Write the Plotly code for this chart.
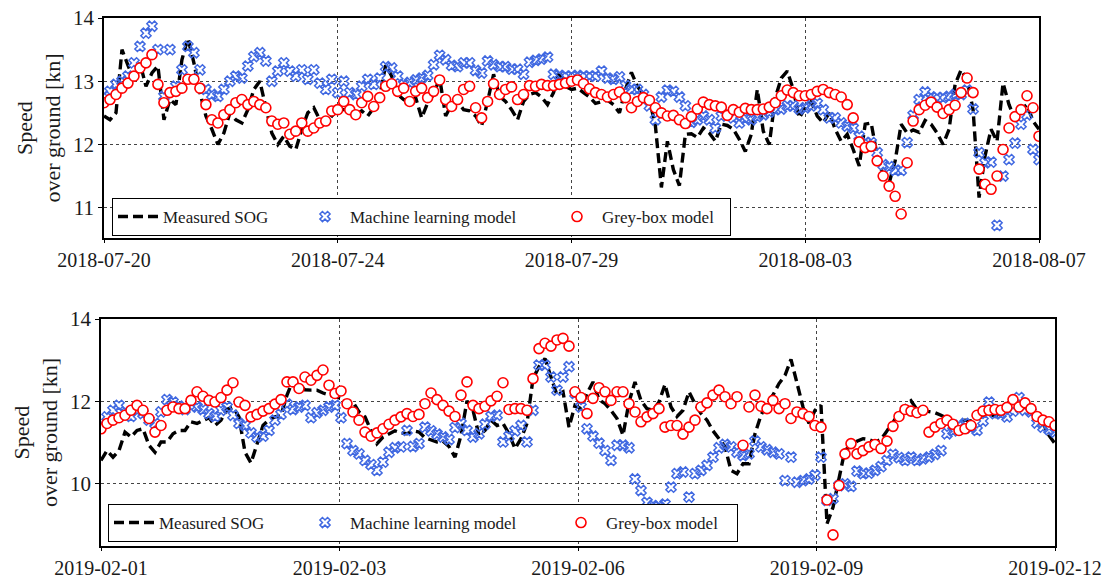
import numpy as np
import plotly.graph_objects as go

# ---- July/August 2018 voyage --------------------------------------------
top_tick_labels = ["2018-07-20", "2018-07-24", "2018-07-29", "2018-08-03", "2018-08-07"]

top_sog = [
    12.45, 12.39, 12.5, 13.5, 13.25, 13.03, 13.29, 12.92, 13.13, 13.24,
    12.39, 12.71, 12.63, 13.34, 13.68, 13.29, 12.82, 12.45, 12.24, 12.0,
    12.18, 12.5, 12.39, 12.34, 12.55, 12.87, 13.0, 12.6, 12.18, 12.0,
    12.13, 11.97, 11.92, 12.24, 12.5, 12.58, 12.39, 12.32, 12.45, 12.55,
    12.55, 12.55, 12.47, 12.53, 12.45, 12.58, 12.76, 13.26, 13.08, 12.79,
    12.71, 12.66, 12.74, 12.42, 12.66, 12.79, 13.05, 12.45, 12.63, 12.68,
    12.55, 12.53, 12.45, 12.29, 12.68, 13.11, 12.76, 12.68, 12.55, 12.39,
    12.68, 12.79, 12.82, 12.75, 12.63, 12.82, 13.16, 12.92, 12.87, 12.89,
    12.82, 12.75, 12.65, 12.67, 12.7, 12.63, 12.5, 12.87, 13.14, 12.92,
    12.79, 12.71, 12.29, 11.32, 12.05, 11.6, 11.35, 12.16, 12.17, 12.11,
    12.26, 12.18, 12.05, 12.32, 12.3, 12.24, 12.08, 11.89, 12.16, 12.87,
    12.21, 12.0, 12.74, 13.05, 13.16, 12.87, 12.42, 12.58, 12.68, 12.45,
    12.34, 12.5, 12.24, 12.05, 12.16, 11.92, 11.66, 12.32, 12.34, 11.82,
    11.5, 11.39, 11.74, 12.32, 12.18, 12.23, 12.19, 12.38, 12.32, 12.18,
    12.0, 12.24, 12.95, 13.18, 13.02, 12.55, 11.16, 11.82, 12.24, 12.05,
    12.97, 12.63, 12.39, 12.55, 12.63, 12.37, 12.24,
]

top_ml = [
    12.76, 12.84, 12.95, 13.0, 13.08, 13.29, 13.55, 13.76, 13.87, 13.5,
    12.76, 13.5, 12.92, 13.18, 13.55, 13.45, 13.18, 12.87, 12.79, 12.76,
    12.87, 13.0, 13.08, 13.05, 13.24, 13.39, 13.45, 13.32, 13.0, 13.16,
    13.29, 13.16, 13.08, 13.18, 13.03, 13.18, 12.97, 12.87, 13.03, 12.82,
    13.0, 12.82, 12.79, 12.92, 13.03, 12.95, 13.05, 13.23, 13.21, 13.08,
    12.95, 12.98, 13.02, 13.05, 13.09, 13.26, 13.41, 13.34, 13.25, 13.23,
    13.29, 13.29, 13.17, 13.13, 13.32, 13.26, 13.23, 13.23, 13.19, 13.19,
    13.11, 13.3, 13.33, 13.35, 13.38, 13.11, 13.09, 13.08, 13.08, 13.09,
    13.08, 13.08, 13.08, 13.16, 13.05, 13.03, 13.07, 12.93, 12.87, 12.87,
    12.79, 12.61, 12.39, 12.75, 12.86, 12.84, 12.75, 12.61, 12.35, 12.39,
    12.45, 12.39, 12.26, 12.45, 12.49, 12.42, 12.34, 12.41, 12.39, 12.44,
    12.47, 12.51, 12.55, 12.56, 12.61, 12.61, 12.56, 12.58, 12.61, 12.65,
    12.55, 12.42, 12.42, 12.34, 12.29, 12.26, 12.13, 12.03, 12.03, 11.87,
    11.68, 11.65, 11.59, 11.59, 12.03, 12.46, 12.71, 12.83, 12.75, 12.74,
    12.74, 12.76, 12.79, 12.79, 12.86, 12.56, 11.87, 11.71, 11.72, 10.72,
    11.5, 11.76, 12.02, 12.32, 12.47, 11.92, 11.76,
]

top_grey = [
    12.66, 12.71, 12.79, 12.89, 12.97, 13.08, 13.21, 13.29, 13.42, 12.95,
    12.66, 12.82, 12.84, 12.89, 13.03, 13.03, 12.89, 12.63, 12.39, 12.34,
    12.47, 12.55, 12.66, 12.71, 12.63, 12.68, 12.63, 12.58, 12.37, 12.32,
    12.34, 12.16, 12.21, 12.34, 12.21, 12.26, 12.34, 12.37, 12.53, 12.55,
    12.68, 12.55, 12.47, 12.66, 12.76, 12.6, 12.74, 12.92, 12.96, 12.84,
    12.89, 12.68, 12.84, 12.89, 12.74, 12.84, 13.02, 12.71, 12.6, 12.71,
    12.87, 12.92, 12.58, 12.42, 12.68, 12.96, 12.79, 12.87, 12.91, 12.71,
    12.79, 12.93, 12.92, 12.95, 12.93, 12.93, 12.95, 12.97, 13.0, 13.02,
    12.96, 12.88, 12.82, 12.79, 12.75, 12.79, 12.83, 12.74, 12.58, 12.68,
    12.74, 12.7, 12.58, 12.5, 12.45, 12.46, 12.39, 12.33, 12.44, 12.56,
    12.67, 12.63, 12.61, 12.59, 12.46, 12.55, 12.51, 12.57, 12.55, 12.55,
    12.56, 12.59, 12.66, 12.77, 12.86, 12.82, 12.77, 12.77, 12.79, 12.84,
    12.87, 12.82, 12.79, 12.75, 12.63, 12.42, 12.04, 11.95, 11.97, 11.74,
    11.5, 11.34, 11.18, 10.9, 11.71, 12.37, 12.55, 12.62, 12.67, 12.59,
    12.49, 12.55, 12.62, 12.82, 13.05, 12.82, 11.61, 11.37, 11.29, 11.5,
    11.92, 12.26, 12.44, 12.55, 12.77, 12.58, 12.13,
]

# ---- February 2019 voyage ------------------------------------------------
bot_tick_labels = ["2019-02-01", "2019-02-03", "2019-02-06", "2019-02-09", "2019-02-12"]

bot_sog = [
    10.56, 10.8, 10.64, 10.8, 11.25, 11.13, 11.29, 11.33, 10.93, 10.76,
    11.01, 11.01, 11.21, 11.29, 11.29, 11.5, 11.46, 11.54, 11.6, 11.41,
    11.54, 11.8, 11.86, 11.62, 10.76, 10.5, 10.97, 11.41, 11.55, 11.62,
    11.66, 12.15, 12.51, 12.39, 12.28, 12.27, 12.27, 12.2, 12.15, 12.11,
    12.07, 11.9, 11.98, 11.74, 11.62, 11.29, 10.97, 11.13, 11.2, 11.28,
    11.23, 11.21, 11.28, 11.25, 11.11, 11.07, 11.01, 11.03, 10.9, 10.64,
    11.17, 12.01, 11.78, 11.17, 11.29, 11.54, 11.41, 11.46, 11.21, 10.85,
    11.09, 11.46, 12.55, 12.84, 13.04, 12.59, 12.15, 12.23, 11.37, 11.9,
    11.82, 12.19, 12.47, 12.04, 11.94, 11.78, 11.58, 11.17, 11.98, 12.47,
    12.02, 11.82, 11.78, 11.98, 12.41, 11.86, 11.63, 11.78, 12.23, 11.94,
    11.7, 11.54, 11.28, 11.09, 10.89, 10.32, 10.24, 10.48, 10.48, 11.21,
    11.66, 11.94, 12.15, 12.43, 12.63, 13.02, 12.47, 11.86, 11.46, 11.78,
    11.9, 9.02, 9.42, 10.11, 10.82, 10.9, 11.03, 11.09, 11.07, 11.01,
    11.07, 11.28, 11.5, 11.7, 11.88, 12.01, 11.8, 11.78, 11.76, 11.72,
    11.66, 11.58, 11.47, 11.5, 11.54, 11.52, 11.58, 11.66, 11.7, 11.63,
    11.74, 11.85, 11.81, 11.82, 11.85, 11.76, 11.58, 11.46, 11.17, 10.97,
]

bot_ml = [
    11.41, 11.62, 11.78, 11.9, 11.74, 11.63, 11.78, 11.7, 11.54, 11.46,
    11.74, 12.04, 11.98, 11.88, 11.8, 11.88, 11.86, 11.8, 11.7, 11.63,
    11.78, 11.86, 11.66, 11.46, 11.41, 11.23, 11.13, 11.15, 11.29, 11.54,
    11.68, 11.93, 11.8, 11.86, 11.9, 11.6, 11.72, 11.78, 11.86, 11.9,
    11.6, 10.97, 10.8, 10.72, 10.56, 10.46, 10.32, 10.52, 10.76, 10.87,
    10.89, 11.29, 10.9, 10.97, 11.37, 11.28, 11.2, 11.13, 11.07, 11.36,
    11.46, 11.29, 11.13, 11.21, 11.44, 11.63, 11.66, 11.01, 11.15, 11.28,
    11.41, 11.01, 11.78, 12.88, 12.88, 12.59, 12.27, 12.59, 12.84, 12.19,
    11.86, 11.33, 11.15, 10.98, 10.8, 10.56, 10.93, 10.93, 10.87, 10.11,
    9.83, 9.54, 9.46, 9.44, 9.5, 9.91, 10.24, 10.28, 9.67, 10.24,
    10.32, 10.44, 10.64, 10.87, 10.95, 10.89, 10.76, 10.68, 10.72, 11.03,
    10.89, 10.82, 10.76, 10.72, 10.07, 10.64, 10.03, 10.07, 10.11, 10.2,
    10.64, 9.59, 9.63, 9.95, 9.99, 9.93, 10.3, 10.24, 10.25, 10.32,
    10.41, 10.56, 10.71, 10.63, 10.56, 10.64, 10.56, 10.6, 10.64, 10.71,
    10.8, 11.21, 11.28, 11.41, 11.46, 11.36, 11.29, 11.52, 11.98, 11.7,
    11.7, 11.62, 11.76, 12.09, 11.78, 11.74, 11.47, 11.37, 11.31, 11.25,
]

bot_grey = [
    11.33, 11.46, 11.54, 11.6, 11.66, 11.78, 11.9, 11.78, 11.58, 11.25,
    11.41, 11.78, 11.86, 11.82, 11.82, 12.02, 12.23, 12.12, 12.02, 11.98,
    12.09, 12.27, 12.45, 11.98, 11.9, 11.62, 11.68, 11.76, 11.82, 11.93,
    12.04, 12.47, 12.47, 12.31, 12.59, 12.51, 12.63, 12.76, 12.39, 12.19,
    12.25, 11.94, 11.74, 11.54, 11.25, 11.15, 11.23, 11.33, 11.44, 11.54,
    11.62, 11.7, 11.63, 11.68, 11.94, 12.2, 12.04, 11.9, 11.76, 11.63,
    12.15, 12.47, 11.9, 11.82, 11.88, 12.01, 12.12, 12.45, 11.8, 11.82,
    11.82, 11.78, 12.55, 13.28, 13.41, 13.34, 13.49, 13.53, 13.34, 12.23,
    12.09, 11.7, 12.07, 12.33, 12.23, 12.02, 12.23, 12.23, 11.94, 11.74,
    11.5, 11.62, 11.7, 11.82, 11.37, 11.41, 11.41, 11.2, 11.37, 11.54,
    11.86, 11.96, 12.15, 12.27, 12.11, 11.94, 12.11, 10.93, 11.86, 12.15,
    11.88, 11.82, 12.02, 11.82, 11.94, 11.58, 11.74, 11.7, 11.63, 11.41,
    11.37, 9.6, 8.75, 9.95, 10.72, 10.97, 10.72, 10.8, 10.89, 10.95,
    10.85, 11.03, 11.39, 11.63, 11.8, 11.76, 11.72, 11.78, 11.25, 11.37,
    11.46, 11.54, 11.44, 11.29, 11.33, 11.41, 11.66, 11.76, 11.78, 11.8,
    11.78, 11.85, 12.04, 11.86, 11.96, 11.82, 11.63, 11.54, 11.5, 11.41,
]

# ---- styling -------------------------------------------------------------
W, H = 1115, 579
FONT = "Liberation Serif"
TXT = "#1a1a1a"
BLUE = "#4169E1"
RED = "#FF0000"

fig = go.Figure()


def add_panel(sog, ml, grey, xref, yref, legend, widths):
    x = np.arange(len(sog))
    fig.add_trace(go.Scatter(
        x=x, y=sog, mode="lines", name="Measured SOG",
        line=dict(color="black", width=3.4, dash="10px,5px"),
        xaxis=xref, yaxis=yref, legend=legend, legendwidth=widths[0],
    ))
    fig.add_trace(go.Scatter(
        x=x, y=ml, mode="markers", name="Machine learning model",
        marker=dict(symbol="x-open", size=9, color=BLUE,
                    line=dict(color=BLUE, width=1.5)),
        xaxis=xref, yaxis=yref, legend=legend, legendwidth=widths[1],
    ))
    fig.add_trace(go.Scatter(
        x=x, y=grey, mode="markers", name="Grey-box model",
        marker=dict(symbol="circle", size=10, color="white",
                    line=dict(color=RED, width=1.6)),
        xaxis=xref, yaxis=yref, legend=legend, legendwidth=widths[2],
    ))


add_panel(top_sog, top_ml, top_grey, "x", "y", "legend", (132, 197, 123))
add_panel(bot_sog, bot_ml, bot_grey, "x2", "y2", "legend2", (136, 201, 126))


def xaxis_style(domain, n, labels, anchor):
    last = n - 1
    return dict(
        domain=domain, anchor=anchor, range=[0, last],
        tickmode="array", tickvals=[last * i / 4 for i in range(5)], ticktext=labels,
        showgrid=True, griddash="dot", gridcolor="#444", gridwidth=1,
        showline=True, mirror=True, linecolor="black", linewidth=1.5,
        ticks="outside", ticklen=3, tickcolor="black",
        tickfont=dict(family=FONT, size=20, color=TXT),
        zeroline=False, automargin=False,
    )


def yaxis_style(domain, rng, ticks, anchor):
    return dict(
        domain=domain, anchor=anchor, range=rng,
        tickmode="array", tickvals=ticks, ticktext=[str(t) for t in ticks],
        showgrid=True, griddash="dot", gridcolor="#444", gridwidth=1,
        showline=True, mirror=True, linecolor="black", linewidth=1.5,
        ticks="outside", ticklen=4, tickcolor="black",
        tickfont=dict(family=FONT, size=21, color=TXT),
        title=dict(text="Speed<br>over ground [kn]",
                   font=dict(family=FONT, size=22, color=TXT), standoff=6),
        zeroline=False, automargin=False,
    )


def legend_style(x, y):
    return dict(
        x=x, y=y, xanchor="left", yanchor="top", orientation="h",
        bgcolor="white", bordercolor="black", borderwidth=1,
        font=dict(family=FONT, size=17, color=TXT),
        itemwidth=40, tracegroupgap=0,
    )


fig.update_layout(
    width=W, height=H,
    margin=dict(l=0, r=0, t=0, b=0),
    paper_bgcolor="white", plot_bgcolor="white",
    xaxis=xaxis_style([104 / W, 1039 / W], len(top_sog), top_tick_labels, "y"),
    yaxis=yaxis_style([1 - 238 / H, 1 - 18 / H], [10.52, 14.0], [11, 12, 13, 14], "x"),
    xaxis2=xaxis_style([101 / W, 1055 / W], len(bot_sog), bot_tick_labels, "y2"),
    yaxis2=yaxis_style([1 - 546 / H, 1 - 319 / H], [8.48, 14.0], [10, 12, 14], "x2"),
    legend=legend_style(112 / W, 1 - 198 / H),
    legend2=legend_style(108 / W, 1 - 504 / H),
)

fig.write_html("out.html")
